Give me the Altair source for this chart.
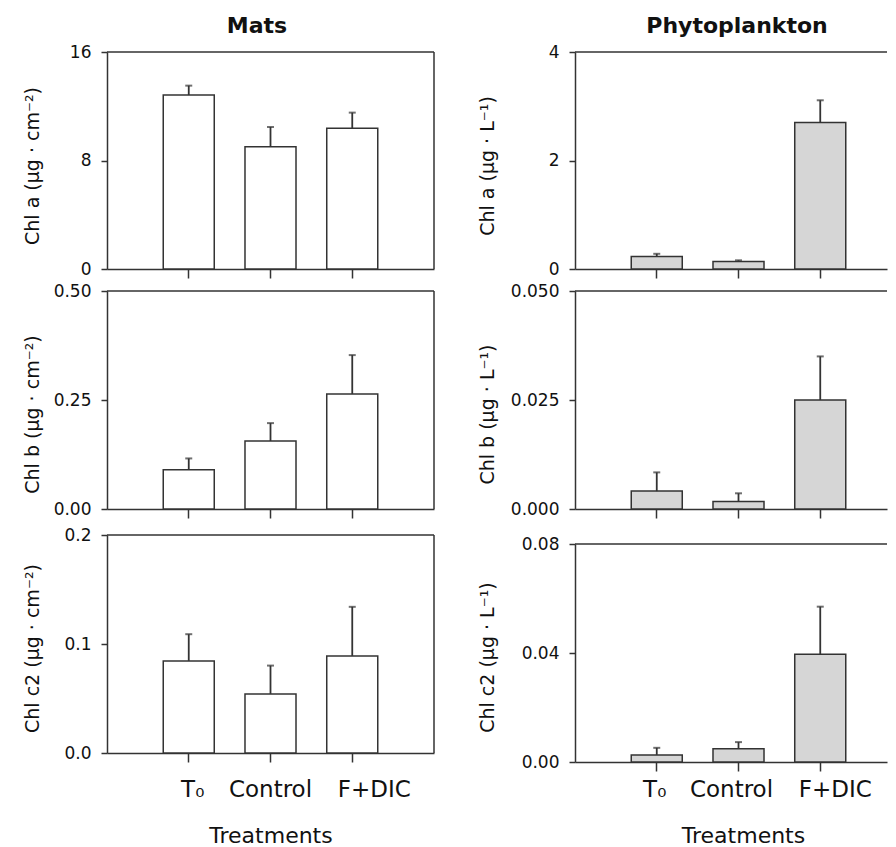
import altair as alt
import pandas as pd

treatments = ["T₀", "Control", "F+DIC"]

mats_chla = [12.83, 9.02, 10.37]
mats_chla_err = [0.69, 1.45, 1.16]
mats_chlb = [0.090, 0.156, 0.264]
mats_chlb_err = [0.026, 0.041, 0.089]
mats_chlc2 = [0.0845, 0.0542, 0.0891]
mats_chlc2_err = [0.0245, 0.026, 0.045]

phyto_chla = [0.23, 0.14, 2.70]
phyto_chla_err = [0.05, 0.02, 0.41]
phyto_chlb = [0.0041, 0.0017, 0.025]
phyto_chlb_err = [0.0043, 0.0019, 0.010]
phyto_chlc2 = [0.0026, 0.0049, 0.0395]
phyto_chlc2_err = [0.0026, 0.0024, 0.0175]

mats_ticks = [[0, 8, 16], [0, 0.25, 0.5], [0, 0.1, 0.2]]
mats_fmt = ["d", ".2f", ".1f"]
phyto_ticks = [[0, 2, 4], [0, 0.025, 0.05], [0, 0.04, 0.08]]
phyto_fmt = ["d", ".3f", ".2f"]

mats_titles = ["Chl a (µg · cm⁻²)", "Chl b (µg · cm⁻²)", "Chl c2 (µg · cm⁻²)"]
phyto_titles = ["Chl a (µg · L⁻¹)", "Chl b (µg · L⁻¹)", "Chl c2 (µg · L⁻¹)"]
headers = ["Mats", "Phytoplankton"]

LINE = "#333333"
FONT = "DejaVu Sans"

ROW_H = [217, 218, 231]


def label_shift(t0, ctrl, fdic):
    return {"condition": [
        {"test": "datum.value === 'F+DIC'", "value": fdic},
        {"test": "datum.value === 'Control'", "value": ctrl},
    ], "value": t0}


def panel(vals, errs, ticks, fmt, ytitle, fill, col, row, header=None):
    df = pd.DataFrame({"treatment": treatments, "mean": vals, "err": errs})
    h = ROW_H[row]
    if col == 0:
        w = 327
        xscale = alt.Scale(domain=treatments, paddingInner=0, paddingOuter=0.5)
        ytx = -65
    else:
        w = 312
        xscale = alt.Scale(domain=treatments, paddingInner=0, paddingOuter=0.4083, align=0.6124)
        ytx = -78
    if row < 2:
        top, bottom = 0, h
        tyy = h / 2 + (5 if row == 0 else 14)
    else:
        if col == 0:
            top, bottom = 4, 222
        else:
            top, bottom = 13, 231
        tyy = (top + bottom) / 2 + 4
    yscale = alt.Scale(domain=[ticks[0], ticks[-1]], range=[bottom, top], nice=False, zero=True)
    yaxis = alt.Axis(values=ticks, format=fmt, title=ytitle, grid=False, tickSize=6,
                     labelPadding=10, labelFontSize=17, labelFlush=False, labelOverlap=False,
                     titleFontSize=19, titleFontWeight="normal", titleX=ytx, titleY=tyy,
                     titleAngle=270, titleBaseline="bottom", titleAlign="center")
    if row < 2:
        xaxis = alt.Axis(labels=False, title=None, tickSize=9, bandPosition=0.5, grid=False)
    else:
        shift = label_shift(4, 0, 22) if col == 0 else label_shift(-2, -7, 15)
        xaxis = alt.Axis(labels=True, labelAngle=0, labelFontSize=23, tickSize=9,
                         labelPadding=(16 if col == 0 else 7), labelOffset=shift,
                         bandPosition=0.5, grid=False,
                         title="Treatments", titleFontSize=22, titleFontWeight="normal",
                         titleBaseline="top", titleY=(72 if col == 0 else 63),
                         titleX=(163.5 if col == 0 else 168),
                         offset=(-9 if col == 0 else 0))
    X = alt.X("treatment:N", sort=treatments, scale=xscale, axis=xaxis, bandPosition=0.5)
    base = alt.Chart(df).transform_calculate(upper="datum.mean + datum.err")
    bars = base.mark_bar(width=alt.RelativeBandSize(0.624), fill=fill, stroke=LINE,
                         strokeWidth=1.5).encode(
        x=alt.X("treatment:N", sort=treatments, scale=xscale, axis=xaxis),
        y=alt.Y("mean:Q", scale=yscale, axis=yaxis))
    rule = base.mark_rule(color=LINE, strokeWidth=1.8).encode(
        x=X, y=alt.Y("mean:Q", scale=yscale, axis=yaxis), y2="upper:Q")
    cap = base.mark_tick(color=LINE, size=7, thickness=2).encode(
        x=X, y=alt.Y("upper:Q", scale=yscale, axis=yaxis))
    one = pd.DataFrame({"k": [0]})
    topline = alt.Chart(one).mark_rule(color=LINE, strokeWidth=1.5).encode(
        x=alt.value(0), x2=alt.value(w), y=alt.value(top))
    layers = [bars, rule, cap, topline]
    if col == 0:
        rightline = alt.Chart(one).mark_rule(color=LINE, strokeWidth=1.5).encode(
            x=alt.value(w), y=alt.value(top), y2=alt.value(bottom))
        layers.append(rightline)
    if header is not None:
        head = alt.Chart(one).mark_text(
            text=header, font=FONT, fontSize=22, fontWeight="bold", color="#111111",
            align="center", baseline="alphabetic").encode(
            x=alt.value(150 if col == 0 else 162), y=alt.value(-19))
        layers.append(head)
    return alt.layer(*layers).properties(width=w, height=h)


WHITE = "#ffffff"
GREY = "#d6d6d6"

cells = [
    panel(mats_chla, mats_chla_err, mats_ticks[0], mats_fmt[0], mats_titles[0], WHITE, 0, 0, headers[0]),
    panel(phyto_chla, phyto_chla_err, phyto_ticks[0], phyto_fmt[0], phyto_titles[0], GREY, 1, 0, headers[1]),
    panel(mats_chlb, mats_chlb_err, mats_ticks[1], mats_fmt[1], mats_titles[1], WHITE, 0, 1),
    panel(phyto_chlb, phyto_chlb_err, phyto_ticks[1], phyto_fmt[1], phyto_titles[1], GREY, 1, 1),
    panel(mats_chlc2, mats_chlc2_err, mats_ticks[2], mats_fmt[2], mats_titles[2], WHITE, 0, 2),
    panel(phyto_chlc2, phyto_chlc2_err, phyto_ticks[2], phyto_fmt[2], phyto_titles[2], GREY, 1, 2),
]

chart = alt.concat(*cells, columns=2, spacing={"row": 22, "column": 141},
                   bounds="flush", align="each").properties(
    padding={"left": 15, "top": 7, "right": 0, "bottom": 0},
    background="white",
).configure(font=FONT).configure_view(stroke=None).configure_axis(
    domainColor=LINE, domainWidth=1.5, tickColor=LINE, tickWidth=1.5,
    labelColor="#111111", titleColor="#111111", labelFont=FONT, titleFont=FONT,
)

chart.save("out.html", embed_options={"renderer": "svg", "actions": False})
